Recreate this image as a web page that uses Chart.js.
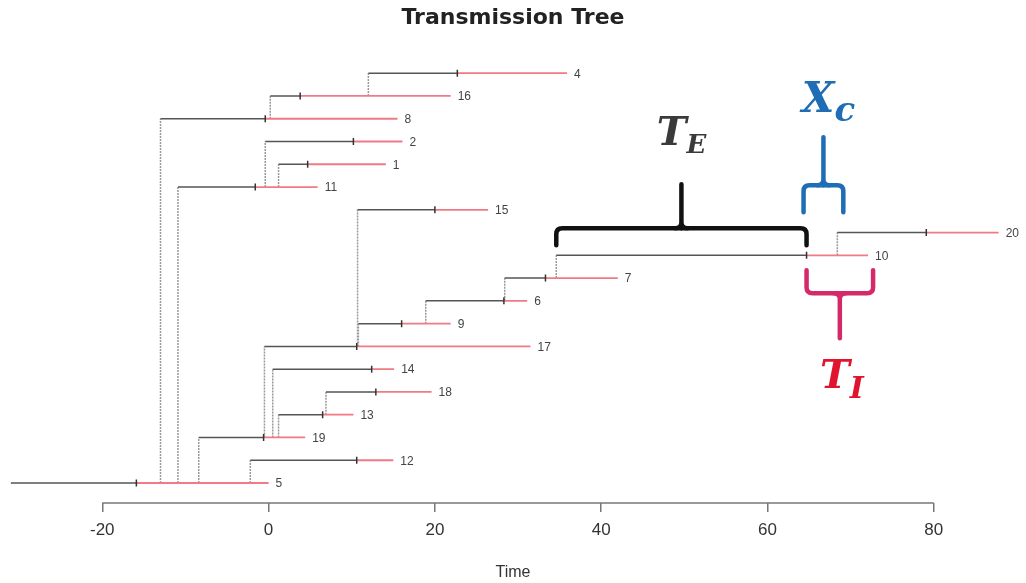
<!DOCTYPE html>
<html>
<head>
<meta charset="utf-8">
<title>Transmission Tree</title>
<script src="https://cdn.jsdelivr.net/npm/chart.js@4.4.0/dist/chart.umd.min.js"></script>
<style>
  html, body { margin: 0; padding: 0; background: #fff; }
  #wrap { width: 1026px; height: 583px; }
</style>
</head>
<body>
<div id="wrap"><canvas id="treeChart"></canvas></div>
<script>
// one entry per case, listed from the bottom row up to the top row
const caseIds        = [5, 12, 19, 13, 18, 14, 17, 9, 6, 7, 10, 20, 15, 11, 1, 2, 8, 16, 4];
const infectors      = [null, 5, 5, 19, 13, 19, 19, 17, 9, 6, 7, 10, 17, 5, 11, 11, 5, 8, 16];
const infectionTimes = [-31.0, -2.2, -8.4, 1.2, 6.9, 0.5, -0.5, 10.8, 18.9, 28.4, 34.6, 68.4, 10.7, -10.9, 1.2, -0.4, -13.0, 0.2, 12.0];
const onsetTimes     = [-15.9, 10.6, -0.6, 6.5, 12.9, 12.4, 10.6, 16.0, 28.3, 33.3, 64.7, 79.1, 20.0, -1.6, 4.7, 10.2, -0.4, 3.8, 22.7];
const endTimes       = [0.0, 15.0, 4.4, 10.2, 19.6, 15.1, 31.5, 21.9, 31.1, 42.0, 72.1, 87.8, 26.4, 5.9, 14.1, 16.1, 15.5, 21.9, 35.9];
const timeTicks      = [-20, 0, 20, 40, 60, 80];

const rowOf = id => caseIds.indexOf(id);

// segments are separated by a null point so the line breaks between cases
const latentPts = [];
const infectiousPts = [];
const linkPts = [];
const onsetPts = [];
caseIds.forEach((id, i) => {
  latentPts.push({x: infectionTimes[i], y: i}, {x: onsetTimes[i], y: i}, {x: onsetTimes[i], y: null});
  infectiousPts.push({x: onsetTimes[i], y: i}, {x: endTimes[i], y: i}, {x: endTimes[i], y: null});
  onsetPts.push({x: onsetTimes[i], y: i});
  if (infectors[i] !== null) {
    linkPts.push({x: infectionTimes[i], y: rowOf(infectors[i])}, {x: infectionTimes[i], y: i}, {x: infectionTimes[i], y: null});
  }
});

function drawBrace(ctx, x1, x2, yBar, yEnd, ySpike, color) {
  const r = 6;
  const dEnd = Math.sign(yEnd - yBar);
  const dSpike = Math.sign(ySpike - yBar);
  const xm = (x1 + x2) / 2;
  ctx.strokeStyle = color;
  ctx.lineWidth = 4.5;
  ctx.lineJoin = 'round';
  ctx.lineCap = 'round';
  ctx.beginPath();
  ctx.moveTo(x1, yEnd);
  ctx.lineTo(x1, yBar + dEnd * r);
  ctx.quadraticCurveTo(x1, yBar, x1 + r, yBar);
  ctx.lineTo(x2 - r, yBar);
  ctx.quadraticCurveTo(x2, yBar, x2, yBar + dEnd * r);
  ctx.lineTo(x2, yEnd);
  ctx.stroke();
  ctx.beginPath();
  ctx.moveTo(xm - 6, yBar);
  ctx.quadraticCurveTo(xm, yBar, xm, yBar + dSpike * 6);
  ctx.quadraticCurveTo(xm, yBar, xm + 6, yBar);
  ctx.moveTo(xm, yBar);
  ctx.lineTo(xm, ySpike);
  ctx.stroke();
  return xm;
}

function drawSymbol(ctx, main, sub, cx, baseline, mainSize, subSize, drop, color) {
  const face = '"DejaVu Serif", "Liberation Serif", serif';
  ctx.fillStyle = color;
  ctx.textAlign = 'left';
  ctx.textBaseline = 'alphabetic';
  ctx.font = `italic bold ${mainSize}px ${face}`;
  const w1 = ctx.measureText(main).width;
  ctx.font = `italic bold ${subSize}px ${face}`;
  const w2 = ctx.measureText(sub).width;
  const left = cx - (w1 + w2) / 2;
  ctx.font = `italic bold ${mainSize}px ${face}`;
  ctx.fillText(main, left, baseline);
  ctx.font = `italic bold ${subSize}px ${face}`;
  ctx.fillText(sub, left + w1, baseline + drop);
}

const treeExtras = {
  id: 'treeExtras',
  afterDraw(chart) {
    const {ctx, scales: {x, y}, chartArea} = chart;
    ctx.save();

    // time axis only spans the labelled range
    ctx.strokeStyle = '#777';
    ctx.lineWidth = 1.5;
    ctx.beginPath();
    ctx.moveTo(x.getPixelForValue(timeTicks[0]), chartArea.bottom);
    ctx.lineTo(x.getPixelForValue(timeTicks[timeTicks.length - 1]), chartArea.bottom);
    ctx.stroke();

    // case numbers at the end of each infectious period
    ctx.font = '12px "Liberation Sans", Arial, sans-serif';
    ctx.fillStyle = '#444';
    ctx.textAlign = 'left';
    ctx.textBaseline = 'middle';
    caseIds.forEach((id, i) => {
      ctx.fillText(String(id), x.getPixelForValue(endTimes[i]) + 7, y.getPixelForValue(i) + 1);
    });

    // period braces around case 10 and its transmission to case 20
    const k = rowOf(10);
    const j = rowOf(20);
    const yRow = y.getPixelForValue(k);
    const xInf = x.getPixelForValue(infectionTimes[k]);
    const xOnset = x.getPixelForValue(onsetTimes[k]);
    const xEnd = x.getPixelForValue(endTimes[k]);
    const xNext = x.getPixelForValue(infectionTimes[j]);

    const mE = drawBrace(ctx, xInf, xOnset, yRow - 27, yRow - 10, yRow - 71, '#111');
    drawSymbol(ctx, 'T', 'E', mE, yRow - 110, 40, 26, 8, '#3a3a3a');

    const mC = drawBrace(ctx, xOnset - 3, xNext + 6, yRow - 70, yRow - 43, yRow - 118, '#1f6db5');
    drawSymbol(ctx, 'X', 'c', mC + 5, yRow - 143, 42, 34, 9, '#1f6db5');

    const mI = drawBrace(ctx, xOnset, xEnd + 5, yRow + 38, yRow + 15, yRow + 83, '#d42a6a');
    drawSymbol(ctx, 'T', 'I', mI + 2, yRow + 133, 40, 30, 10, '#e0142f');

    ctx.restore();
  }
};

Chart.defaults.font.family = '"Liberation Sans", Arial, sans-serif';

new Chart(document.getElementById('treeChart'), {
  type: 'scatter',
  data: {
    datasets: [
      {
        label: 'onset',
        data: onsetPts,
        showLine: false,
        pointStyle: 'line',
        rotation: 90,
        pointRadius: 3.5,
        borderColor: '#333',
        borderWidth: 1.5,
        order: 0
      },
      {
        label: 'latent',
        data: latentPts,
        showLine: true,
        spanGaps: false,
        borderColor: '#555',
        borderWidth: 1.5,
        pointRadius: 0,
        order: 1
      },
      {
        label: 'infectious',
        data: infectiousPts,
        showLine: true,
        spanGaps: false,
        borderColor: '#f07a85',
        borderWidth: 1.8,
        pointRadius: 0,
        order: 2
      },
      {
        label: 'transmission',
        data: linkPts,
        showLine: true,
        spanGaps: false,
        borderColor: '#999',
        borderWidth: 1.5,
        borderDash: [2, 1],
        pointRadius: 0,
        order: 3
      }
    ]
  },
  options: {
    responsive: true,
    maintainAspectRatio: false,
    animation: false,
    layout: { padding: 0 },
    plugins: {
      legend: { display: false },
      tooltip: { enabled: false },
      title: {
        display: true,
        text: 'Transmission Tree',
        color: '#222',
        font: { family: '"DejaVu Sans", sans-serif', size: 22, weight: 'bold' },
        padding: { top: 5, bottom: 6 }
      }
    },
    scales: {
      x: {
        type: 'linear',
        min: -31.64,
        max: 90.43,
        afterBuildTicks: s => { s.ticks = timeTicks.map(v => ({ value: v })); },
        afterFit: s => { s.height = 80; },
        border: { display: false },
        grid: { drawOnChartArea: false, drawTicks: true, tickLength: 9, color: '#777', lineWidth: 1.5 },
        ticks: { color: '#333', font: { size: 17 }, padding: 8, maxRotation: 0, autoSkip: false },
        title: { display: true, text: 'Time', color: '#333', font: { size: 16 }, padding: { top: 0, bottom: 1 } }
      },
      y: {
        display: false,
        min: -0.878,
        max: 19.572
      }
    }
  },
  plugins: [treeExtras]
});
</script>
</body>
</html>
